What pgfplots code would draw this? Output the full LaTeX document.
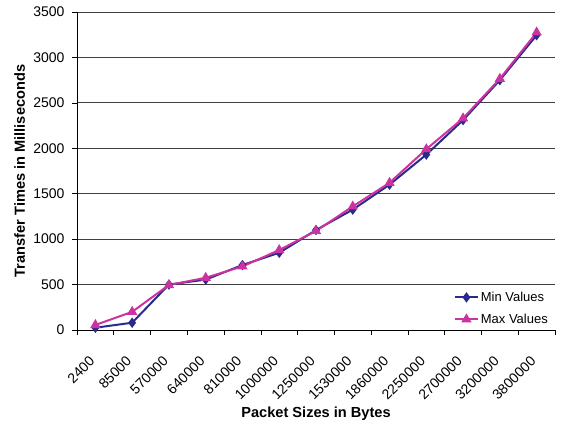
\documentclass[border=0pt]{standalone}
\usepackage{pgfplots}
\pgfplotsset{compat=1.18}
\usepackage{fontspec}
\setmainfont{Liberation Sans}
\definecolor{minc}{RGB}{40,42,140}
\definecolor{maxc}{RGB}{204,50,160}
\begin{document}
\begin{tikzpicture}
\begin{axis}[
  scale only axis,
  width=478pt, height=318pt,
  xmin=-0.5, xmax=12.5,
  ymin=0, ymax=3500,
  ytick={0,500,...,3500},
  xtick={-0.19,0.81,...,11.81},
  xticklabels={2400,85000,570000,640000,810000,1000000,1250000,1530000,1860000,2250000,2700000,3200000,3800000},
  minor xtick={-0.5,0.5,...,12.5},
  x tick style={draw=none},
  minor x tick style={draw=black, line width=0.6pt},
  y tick style={draw=black, line width=0.6pt},
  tick align=outside,
  major tick length=5pt, minor tick length=5pt,
  axis x line*=bottom, axis y line*=left,
  axis line style={line width=0.7pt, -},
  ymajorgrids,
  grid style={line width=0.8pt, draw=black!75},
  /pgf/number format/assume math mode=true,
  /pgf/number format/1000 sep={},
  tick label style={font=\fontsize{14}{16}\selectfont},
  xticklabel style={rotate=45, anchor=north east, inner sep=0pt},
  xticklabel shift=20pt,
  yticklabel style={xshift=-4pt},
  xlabel={\textbf{Packet Sizes in Bytes}},
  ylabel={\textbf{Transfer Times in Milliseconds}},
  label style={font=\fontsize{14.6}{16}\selectfont},
  xlabel style={at={(axis description cs:0.5,0)}, anchor=center, yshift=-84pt},
  ylabel style={at={(axis description cs:-0.12,0.5)}, anchor=center},
  legend style={at={(rel axis cs:1,0)}, anchor=south east, draw=none, fill=none,
    font=\fontsize{13}{15}\selectfont, xshift=-4pt, yshift=2pt, row sep=7pt,
    inner sep=1pt},
  legend cell align=left,
  legend image code/.code={\draw[mark repeat=2,mark phase=2,#1] plot coordinates {(0cm,0cm) (0.4cm,0cm) (0.8cm,0cm)};},
]
\addplot[color=minc, line width=2pt, mark=diamond*, mark size=3.6pt, mark options={solid, fill=minc}]
coordinates {(0,25) (1,80) (2,500) (3,555) (4,715) (5,850) (6,1100) (7,1325) (8,1600) (9,1930) (10,2310) (11,2750) (12,3245)};
\addlegendentry{Min Values}
\addplot[color=maxc, line width=2pt, mark=triangle*, mark size=4pt, mark options={solid, fill=maxc}]
coordinates {(0,55) (1,200) (2,495) (3,575) (4,700) (5,880) (6,1090) (7,1360) (8,1620) (9,1990) (10,2330) (11,2765) (12,3275)};
\addlegendentry{Max Values}
\end{axis}
\path[use as bounding box] (-77pt,-94pt) rectangle (485pt,330pt);
\end{tikzpicture}
\end{document}
